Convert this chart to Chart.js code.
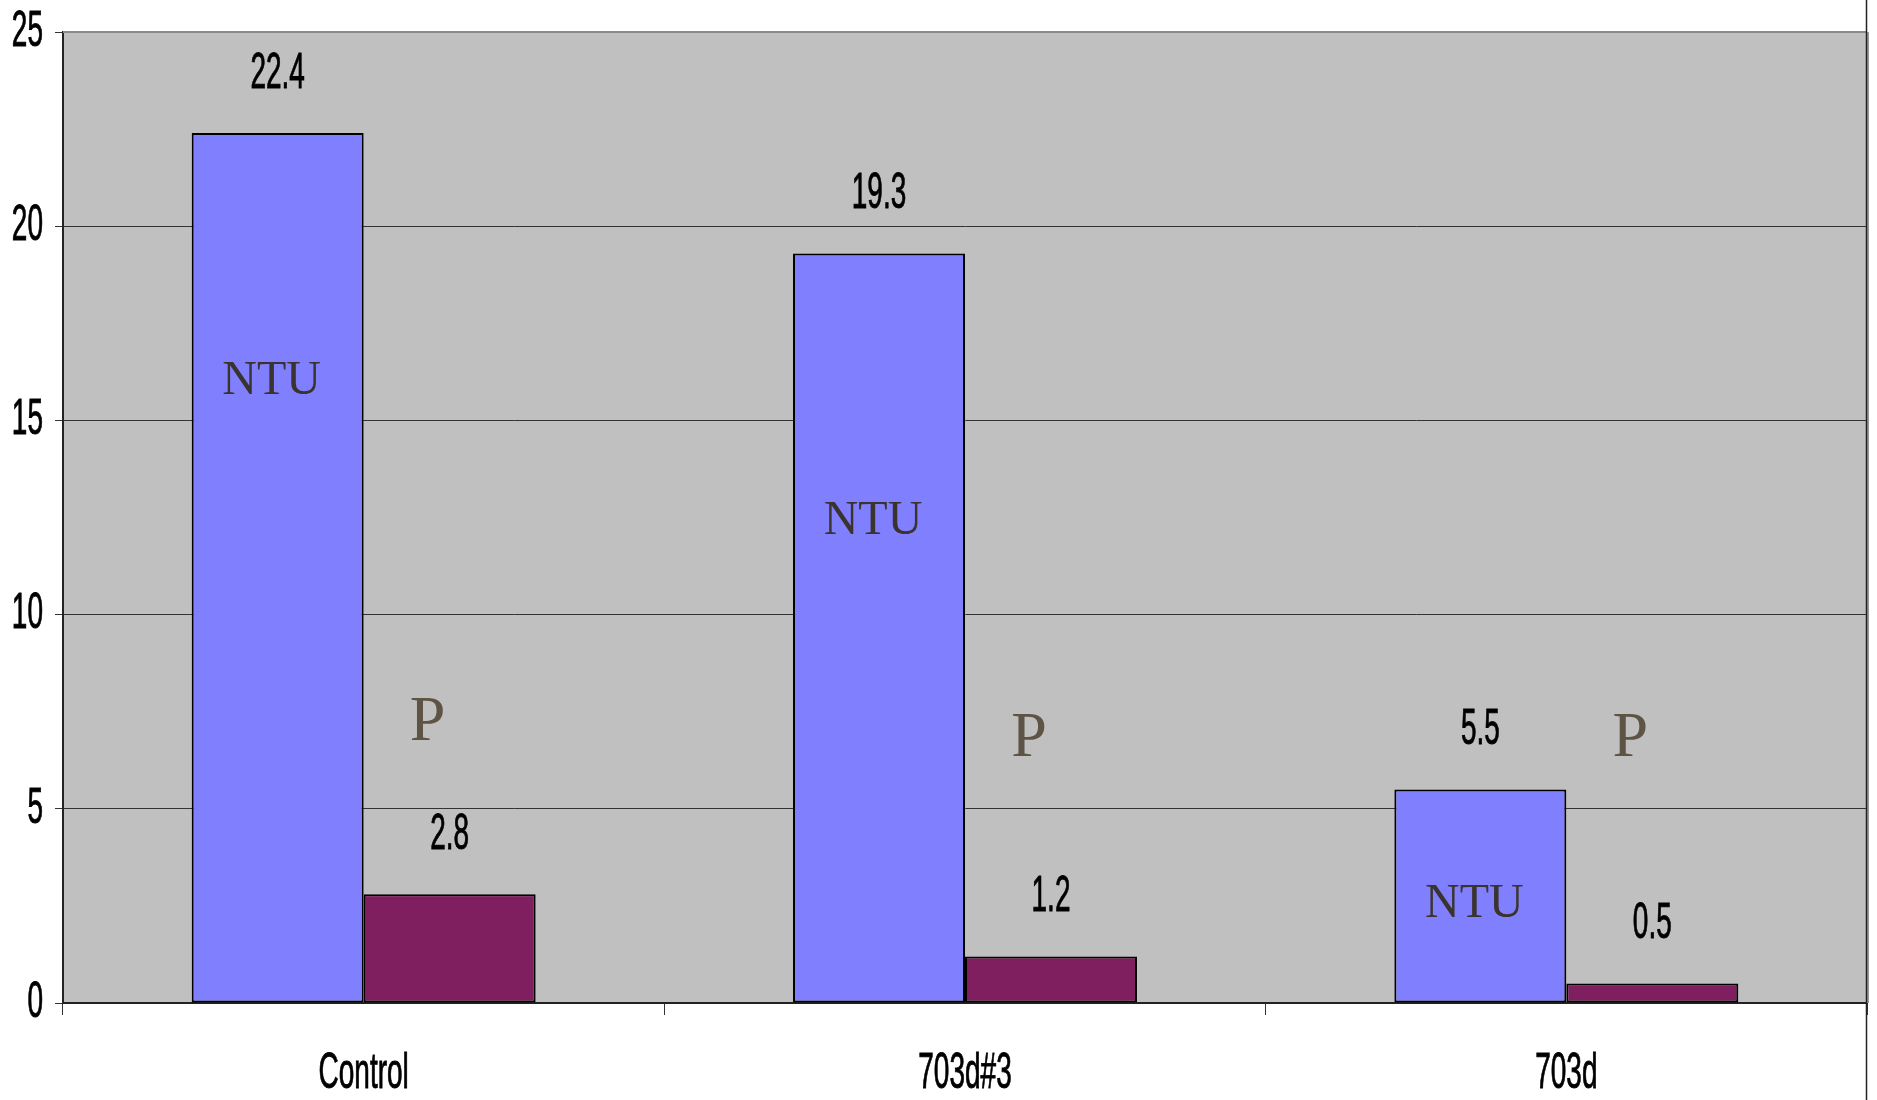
<!DOCTYPE html>
<html>
<head>
<meta charset="utf-8">
<script src="https://cdn.jsdelivr.net/npm/chart.js@4/dist/chart.umd.min.js"></script>
<style>
  html, body { margin: 0; padding: 0; background: #fff; }
  canvas { display: block; }
</style>
</head>
<body>
<canvas id="myBarChart" width="1877" height="1100"></canvas>
<script>
// data
const categories = ['Control', '703d#3', '703d'];
const ntuValues = [22.4, 19.3, 5.5];
const pValues = [2.8, 1.2, 0.5];
const yTicks = [0, 5, 10, 15, 20, 25];
// where the in-plot "NTU" / "P" notes sit, in axis units
const ntuNoteY = [16.0, 12.4, 2.55];
const pNoteY = [7.2, 6.8, 6.8];

const tallFont = '50px "Liberation Sans", Arial, sans-serif';
const squeeze = 0.56;

// the picture's text is tall and narrow: draw it squeezed sideways
function tallText(ctx, text, x, y, align) {
  ctx.save();
  ctx.font = tallFont;
  ctx.fillStyle = '#000';
  ctx.strokeStyle = '#000';
  ctx.lineWidth = 0.9;
  ctx.textAlign = align;
  ctx.textBaseline = 'middle';
  ctx.translate(x, y);
  ctx.scale(squeeze, 1);
  ctx.fillText(text, 0, 0);
  ctx.strokeText(text, 0, 0);
  ctx.restore();
}

const ctx = document.getElementById('myBarChart').getContext('2d');

const backdrop = {
  id: 'backdrop',
  beforeDraw(chart) {
    const { ctx, chartArea: a } = chart;
    ctx.save();
    ctx.fillStyle = '#fff';
    ctx.fillRect(0, 0, chart.width, chart.height);
    ctx.fillStyle = '#C0C0C0';
    ctx.fillRect(a.left, a.top, a.right - a.left, a.bottom - a.top);
    ctx.restore();
  }
};

const labels = {
  id: 'labels',
  afterDraw(chart) {
    const { ctx, chartArea: a, scales: { x, y } } = chart;

    // frame bits
    ctx.save();
    ctx.strokeStyle = '#8a8a8a';
    ctx.lineWidth = 2;
    ctx.beginPath();
    ctx.moveTo(a.left, a.top);
    ctx.lineTo(a.right, a.top);
    ctx.stroke();
    ctx.strokeStyle = '#9a9a9a';
    ctx.beginPath();
    ctx.moveTo(a.right + 1, a.top);
    ctx.lineTo(a.right + 1, a.bottom);
    ctx.stroke();
    ctx.strokeStyle = '#222';
    ctx.lineWidth = 1.5;
    ctx.beginPath();
    ctx.moveTo(a.right - 0.5, 0);
    ctx.lineTo(a.right - 0.5, chart.height);
    ctx.stroke();
    ctx.restore();

    // axis labels
    yTicks.forEach(v => tallText(ctx, String(v), 43, y.getPixelForValue(v), 'right'));
    categories.forEach((c, i) => tallText(ctx, c, x.getPixelForValue(i), 1074, 'center'));

    // value labels above bars
    chart.data.datasets.forEach((ds, di) => {
      chart.getDatasetMeta(di).data.forEach((bar, i) => {
        tallText(ctx, String(ds.data[i]), bar.x, bar.y - 59, 'center');
      });
    });

    // NTU / P notes
    const ntuMeta = chart.getDatasetMeta(0).data;
    const pMeta = chart.getDatasetMeta(1).data;
    ctx.save();
    ctx.textAlign = 'center';
    ctx.textBaseline = 'middle';
    ctx.font = '48px "Liberation Serif", "Times New Roman", serif';
    ctx.fillStyle = '#3A332E';
    ntuMeta.forEach((bar, i) => ctx.fillText('NTU', bar.x - 6, y.getPixelForValue(ntuNoteY[i])));
    ctx.font = '64px "Liberation Serif", "Times New Roman", serif';
    ctx.fillStyle = '#5E5446';
    pMeta.forEach((bar, i) => ctx.fillText('P', bar.x - 22, y.getPixelForValue(pNoteY[i])));
    ctx.restore();
  }
};

const config = {
  type: 'bar',
  data: {
    labels: categories,
    datasets: [{
      label: 'NTU',
      data: ntuValues,
      backgroundColor: '#8080FF',
      borderColor: '#000',
      borderWidth: 2,
      borderSkipped: false
    }, {
      label: 'P',
      data: pValues,
      backgroundColor: '#7F1F5F',
      borderColor: '#000',
      borderWidth: 2,
      borderSkipped: false
    }]
  },
  options: {
    responsive: false,
    animation: false,
    events: [],
    categoryPercentage: 0.572,
    barPercentage: 1.0,
    layout: { padding: { top: 32, right: 10, left: 0, bottom: 0 } },
    plugins: {
      legend: { display: false },
      tooltip: { enabled: false }
    },
    scales: {
      x: {
        offset: true,
        grid: { offset: true, drawOnChartArea: false, color: '#333', tickLength: 12 },
        border: { color: '#222', width: 2 },
        ticks: { display: false },
        afterFit(scale) { scale.height = 97; }
      },
      y: {
        min: 0,
        max: 25,
        ticks: { stepSize: 5, display: false },
        grid: { color: '#333', lineWidth: 1, tickLength: 8 },
        border: { color: '#222', width: 2 },
        afterFit(scale) { scale.width = 63; }
      }
    }
  },
  plugins: [backdrop, labels]
};

new Chart(ctx, config);
</script>
</body>
</html>
